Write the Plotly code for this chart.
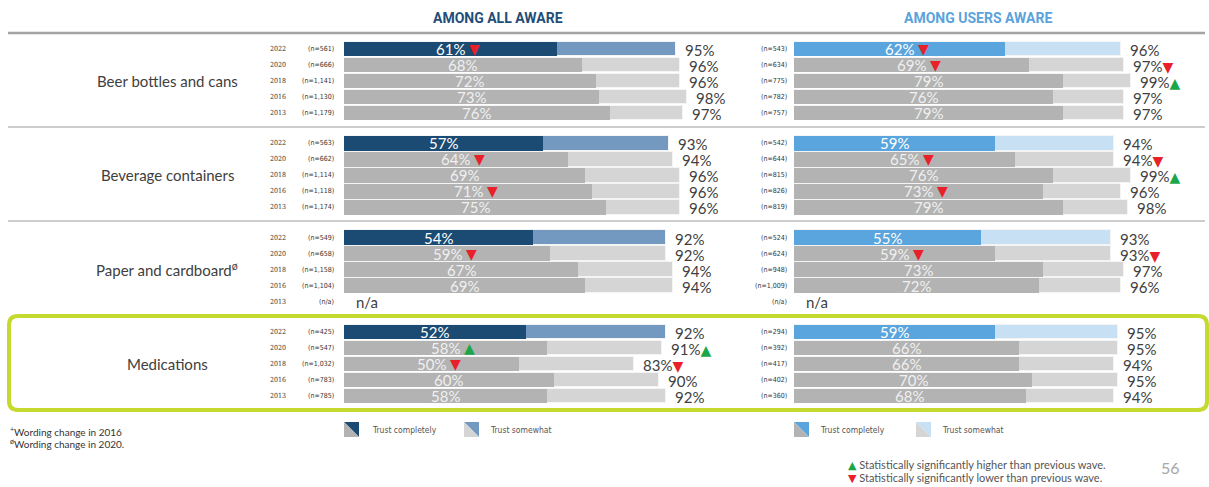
import plotly.graph_objects as go

# ---------------- data ----------------
years = ["2022", "2020", "2018", "2016", "2013"]
categories = ["Beer bottles and cans", "Beverage containers",
              "Paper and cardboard<sup>ø</sup>", "Medications"]

all_complete = [[61, 68, 72, 73, 76], [57, 64, 69, 71, 75],
                [54, 59, 67, 69, None], [52, 58, 50, 60, 58]]
all_total = [[95, 96, 96, 98, 97], [93, 94, 96, 96, 96],
             [92, 92, 94, 94, None], [92, 91, 83, 90, 92]]
all_n = [["n=561", "n=666", "n=1,141", "n=1,130", "n=1,179"],
         ["n=563", "n=662", "n=1,114", "n=1,118", "n=1,174"],
         ["n=549", "n=658", "n=1,158", "n=1,104", "n/a"],
         ["n=425", "n=547", "n=1,032", "n=783", "n=785"]]
all_sig_complete = [["down", "", "", "", ""], ["", "down", "", "down", ""],
                    ["", "down", "", "", ""], ["", "up", "down", "", ""]]
all_sig_total = [["", "", "", "", ""], ["", "", "", "", ""],
                 ["", "", "", "", ""], ["", "up", "down", "", ""]]

users_complete = [[62, 69, 79, 76, 79], [59, 65, 76, 73, 79],
                  [55, 59, 73, 72, None], [59, 66, 66, 70, 68]]
users_total = [[96, 97, 99, 97, 97], [94, 94, 99, 96, 98],
               [93, 93, 97, 96, None], [95, 95, 94, 95, 94]]
users_n = [["n=543", "n=634", "n=775", "n=782", "n=757"],
           ["n=542", "n=644", "n=815", "n=826", "n=819"],
           ["n=524", "n=624", "n=948", "n=1,009", "n/a"],
           ["n=294", "n=392", "n=417", "n=402", "n=360"]]
users_sig_complete = [["down", "down", "", "", ""], ["", "down", "", "down", ""],
                      ["", "down", "", "", ""], ["", "", "", "", ""]]
users_sig_total = [["", "down", "up", "", ""], ["", "down", "up", "", ""],
                   ["", "down", "", "", ""], ["", "", "", "", ""]]

# ---------------- layout / style ----------------
W, H = 1209, 487
ROW0, GROUP_PITCH, ROW_PITCH, BAR_H = 49, 94.3, 16, 14.5
FONT = "Lato"
TXT = "#404040"
RED, GREEN = "#e8202a", "#1aa64a"
GRAY_DARK, GRAY_LIGHT = "#b3b3b3", "#d5d5d5"

panels = [
    dict(xa="x", px0=344, px100=693.5, dark="#1b4a72", light="#7499c0",
         complete=all_complete, total=all_total, n=all_n,
         sigc=all_sig_complete, sigt=all_sig_total, nx=336, show_year=True,
         title="AMONG ALL AWARE", tcolor="#1f4e79", tx=498),
    dict(xa="x2", px0=794, px100=1134.6, dark="#5aa5dd", light="#c8e0f4",
         complete=users_complete, total=users_total, n=users_n,
         sigc=users_sig_complete, sigt=users_sig_total, nx=789, show_year=False,
         title="AMONG USERS AWARE", tcolor="#5ba3dc", tx=978),
]


def row_y(g, i):
    return ROW0 + g * GROUP_PITCH + i * ROW_PITCH


def tri(kind, size=12):
    if kind == "down":
        return f"<span style='color:{RED};font-size:{size}px;font-family:DejaVu Sans'>▼</span>"
    if kind == "up":
        return f"<span style='color:{GREEN};font-size:{size}px;font-family:DejaVu Sans'>▲</span>"
    return ""


fig = go.Figure()
annotations = []
shapes = []

for p in panels:
    ys, tot, comp, cl, cd = [], [], [], [], []
    for g in range(len(categories)):
        for i in range(len(years)):
            y = row_y(g, i)
            c = p["complete"][g][i]
            t = p["total"][g][i]
            ys.append(y)
            tot.append(t)
            comp.append(c)
            cl.append(p["light"] if i == 0 else GRAY_LIGHT)
            cd.append(p["dark"] if i == 0 else GRAY_DARK)
            # n label
            annotations.append(dict(
                x=p["nx"], y=y, xref="x3", yref="y", xanchor="right", yanchor="middle",
                text=f"({p['n'][g][i]})", showarrow=False,
                font=dict(family="DejaVu Sans Condensed", size=7, color="#333333")))
            if p["show_year"]:
                annotations.append(dict(
                    x=268, y=y, xref="x3", yref="y", xanchor="left", yanchor="middle",
                    text=years[i], showarrow=False,
                    font=dict(family="DejaVu Serif Condensed", size=7, color="#333333")))
            if c is None:
                annotations.append(dict(
                    x=p["px0"] + 10, y=y, xref="x3", yref="y", xanchor="left",
                    yanchor="middle", text="n/a", showarrow=False,
                    font=dict(family=FONT, size=15, color=TXT)))
                continue
            inner_col = "#ffffff" if i == 0 else "#f0f0f0"
            annotations.append(dict(
                x=c / 2, y=y, xref=p["xa"], yref="y", xanchor="center", yanchor="middle",
                text=f"{c}%", showarrow=False,
                font=dict(family=FONT, size=15, color=inner_col)))
            if p["sigc"][g][i]:
                annotations.append(dict(
                    x=c / 2, y=y, xref=p["xa"], yref="y", xanchor="center",
                    yanchor="middle", xshift=24, text=tri(p["sigc"][g][i], 14),
                    showarrow=False, font=dict(family="DejaVu Sans", size=14)))
            annotations.append(dict(
                x=t, y=y + 1, xref=p["xa"], yref="y", xanchor="left", yanchor="middle",
                xshift=7, text=f"{t}%" + tri(p["sigt"][g][i], 14), showarrow=False,
                font=dict(family=FONT, size=15, color=TXT)))

    fig.add_trace(go.Bar(x=tot, y=ys, orientation="h", width=BAR_H,
                         marker=dict(color=cl, line=dict(color="#f4f4f4", width=1)),
                         xaxis=p["xa"], yaxis="y", hoverinfo="skip"))
    fig.add_trace(go.Bar(x=comp, y=ys, orientation="h", width=BAR_H,
                         marker=dict(color=cd, line=dict(width=0)),
                         xaxis=p["xa"], yaxis="y", hoverinfo="skip"))
    # panel title
    annotations.append(dict(x=p["tx"], y=18, xref="x3", yref="y", xanchor="center",
                            yanchor="middle", text=f"<b>{p['title']}</b>", showarrow=False,
                            font=dict(family="Roboto", size=14, color=p["tcolor"])))

# category labels
for g, cat in enumerate(categories):
    annotations.append(dict(x=167, y=row_y(g, 2), xref="x3", yref="y", xanchor="center",
                            yanchor="middle", text=cat, showarrow=False,
                            font=dict(family=FONT, size=15, color=TXT)))

# separator lines
shapes.append(dict(type="line", xref="x3", yref="y", x0=8, x1=1205, y0=33, y1=33,
                   line=dict(color="#a3a3a3", width=2.5)))
for ysep in (127, 221):
    shapes.append(dict(type="line", xref="x3", yref="y", x0=8, x1=1205, y0=ysep, y1=ysep,
                       line=dict(color="#bdbdbd", width=1.5)))
# rounded highlight box around Medications
bx0, bx1, by0, by1, r = 9, 1207, 316, 410, 9
path = (f"M {bx0+r},{by0} L {bx1-r},{by0} Q {bx1},{by0} {bx1},{by0+r} "
        f"L {bx1},{by1-r} Q {bx1},{by1} {bx1-r},{by1} L {bx0+r},{by1} "
        f"Q {bx0},{by1} {bx0},{by1-r} L {bx0},{by0+r} Q {bx0},{by0} {bx0+r},{by0} Z")
shapes.append(dict(type="path", xref="x3", yref="y", path=path,
                   line=dict(color="#c6d92e", width=4)))

# legend icons (split squares)
def icon(x0, y0, top_col, bot_col, s=15):
    shapes.append(dict(type="path", xref="x3", yref="y",
                       path=f"M {x0},{y0} L {x0+s},{y0} L {x0+s},{y0+s} Z",
                       fillcolor=top_col, line=dict(width=0)))
    shapes.append(dict(type="path", xref="x3", yref="y",
                       path=f"M {x0},{y0} L {x0},{y0+s} L {x0+s},{y0+s} Z",
                       fillcolor=bot_col, line=dict(width=0)))

legend_items = [(344, panels[0]["dark"], GRAY_DARK, 370, "Trust completely"),
                (464, panels[0]["light"], GRAY_LIGHT, 488, "Trust somewhat"),
                (794, panels[1]["dark"], GRAY_DARK, 818, "Trust completely"),
                (916, panels[1]["light"], GRAY_LIGHT, 940, "Trust somewhat")]
for ix, ctop, cbot, tx, label in legend_items:
    icon(ix, 422, ctop, cbot)
    annotations.append(dict(x=tx, y=430, xref="x3", yref="y", xanchor="left",
                            yanchor="middle", text=label, showarrow=False,
                            font=dict(family="DejaVu Sans Condensed", size=8.5, color="#555555")))

# significance legend
annotations.append(dict(x=846, y=465, xref="x3", yref="y", xanchor="left", yanchor="middle",
                        text=tri("up", 11) + " Statistically significantly higher than previous wave.",
                        showarrow=False,
                        font=dict(family=FONT, size=11, color="#555555")))
annotations.append(dict(x=846, y=478, xref="x3", yref="y", xanchor="left", yanchor="middle",
                        text=tri("down", 11) + " Statistically significantly lower than previous wave.",
                        showarrow=False,
                        font=dict(family=FONT, size=11, color="#555555")))
annotations.append(dict(x=1170, y=467, xref="x3", yref="y", xanchor="center", yanchor="middle",
                        text="56", showarrow=False,
                        font=dict(family=FONT, size=16, color="#a6a6a6")))

# footnotes
annotations.append(dict(x=8, y=431, xref="x3", yref="y", xanchor="left", yanchor="middle",
                        text="<sup>+</sup>Wording change in 2016", showarrow=False,
                        font=dict(family=FONT, size=10, color="#333333")))
annotations.append(dict(x=8, y=443, xref="x3", yref="y", xanchor="left", yanchor="middle",
                        text="<sup>ø</sup>Wording change in 2020.", showarrow=False,
                        font=dict(family=FONT, size=10, color="#333333")))

hidden = dict(visible=False, showgrid=False, zeroline=False, fixedrange=True)
fig.update_layout(
    width=W, height=H, margin=dict(l=0, r=0, t=0, b=0),
    paper_bgcolor="white", plot_bgcolor="rgba(0,0,0,0)",
    barmode="overlay", bargap=0, showlegend=False,
    xaxis=dict(domain=[panels[0]["px0"] / W, panels[0]["px100"] / W], range=[0, 100],
               anchor="y", **hidden),
    xaxis2=dict(domain=[panels[1]["px0"] / W, panels[1]["px100"] / W], range=[0, 100],
                anchor="y", **hidden),
    xaxis3=dict(domain=[0, 1], range=[0, W], anchor="y", **hidden),
    yaxis=dict(domain=[0, 1], range=[H, 0], **hidden),
    annotations=annotations, shapes=shapes,
)
fig.write_html("out.html", config={"displayModeBar": False},
               post_script="document.body.style.margin='0';document.body.style.overflow='hidden';")
